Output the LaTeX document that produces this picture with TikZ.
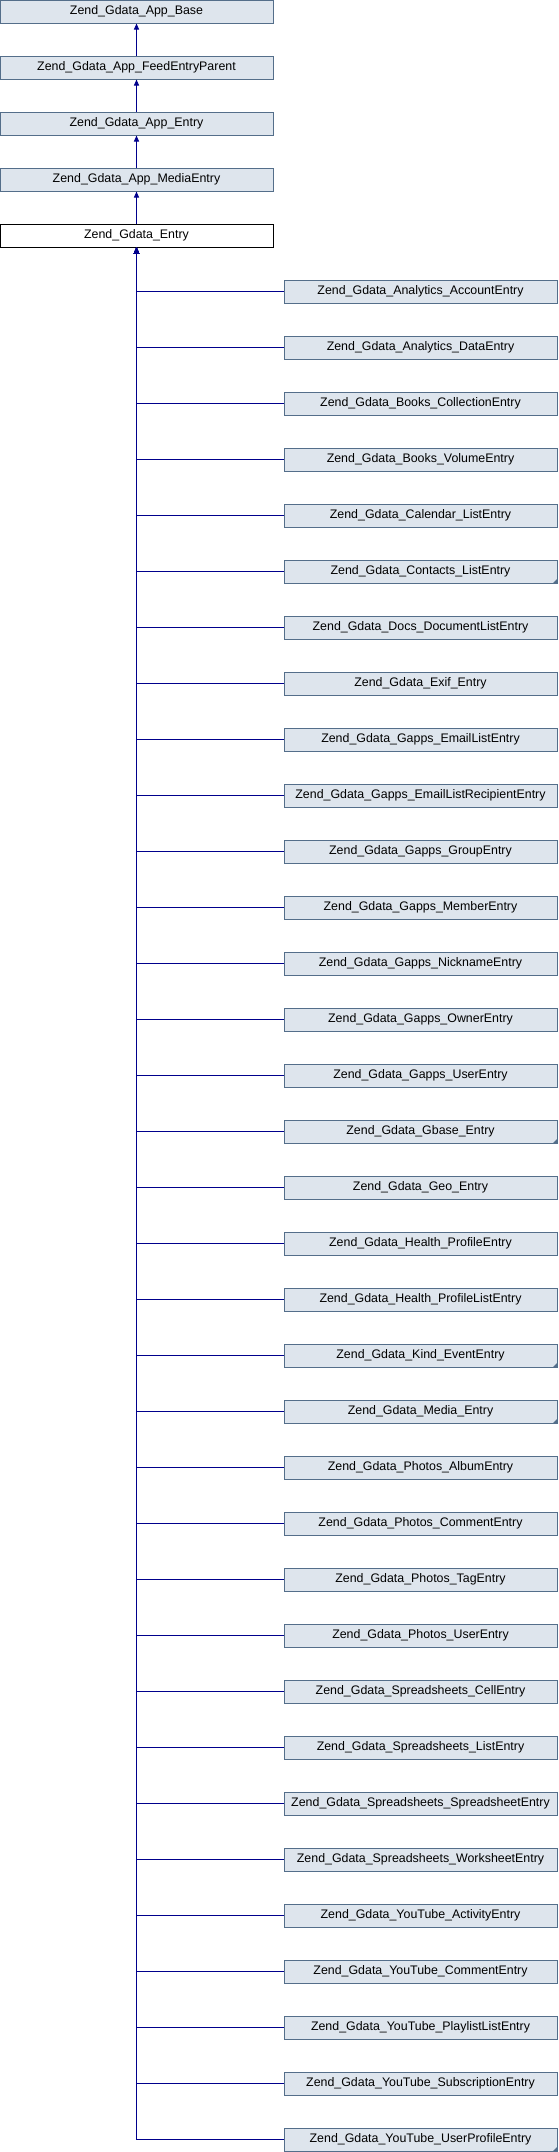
\documentclass[tikz,border=0pt]{standalone}
\usepackage{fontspec}
\setmainfont{Liberation Sans}
\usetikzlibrary{arrows.meta}
\definecolor{boxfill}{RGB}{222,229,237}
\definecolor{boxline}{RGB}{84,110,138}
\definecolor{linkblue}{RGB}{0,0,140}

\begin{document}
\begin{tikzpicture}[x=1pt,y=-1pt,
		classbox/.style={rectangle,draw=boxline,fill=boxfill,line width=1pt,minimum width=273pt,minimum height=23pt,inner sep=0pt,font=\fontsize{12.4}{14}\selectfont},
		mainbox/.style={classbox,draw=black,fill=white},
		inherit/.style={draw=linkblue,line width=1pt,-{Triangle[width=5pt,length=6pt]}}]
		\useasboundingbox (0,0) rectangle (558,2152);
		\node(base) at (136.5,11.5)[classbox]{Zend\_Gdata\_App\_Base};
		\node(feed) at (136.5,67.5)[classbox]{Zend\_Gdata\_App\_FeedEntryParent};
		\node(appentry) at (136.5,123.5)[classbox]{Zend\_Gdata\_App\_Entry};
		\node(media) at (136.5,179.5)[classbox]{Zend\_Gdata\_App\_MediaEntry};
		\node(entry) at (136.5,235.5)[mainbox]{Zend\_Gdata\_Entry};
		
		\draw[inherit] (feed) to (base);
		\draw[inherit] (appentry) to (feed);
		\draw[inherit] (media) to (appentry);
		\draw[inherit] (entry) to (media);
		
		\foreach \name [count=\i] in {Analytics\_AccountEntry,Analytics\_DataEntry,Books\_CollectionEntry,Books\_VolumeEntry,Calendar\_ListEntry,Contacts\_ListEntry,Docs\_DocumentListEntry,Exif\_Entry,Gapps\_EmailListEntry,Gapps\_EmailListRecipientEntry,Gapps\_GroupEntry,Gapps\_MemberEntry,Gapps\_NicknameEntry,Gapps\_OwnerEntry,Gapps\_UserEntry,Gbase\_Entry,Geo\_Entry,Health\_ProfileEntry,Health\_ProfileListEntry,Kind\_EventEntry,Media\_Entry,Photos\_AlbumEntry,Photos\_CommentEntry,Photos\_TagEntry,Photos\_UserEntry,Spreadsheets\_CellEntry,Spreadsheets\_ListEntry,Spreadsheets\_SpreadsheetEntry,Spreadsheets\_WorksheetEntry,YouTube\_ActivityEntry,YouTube\_CommentEntry,YouTube\_PlaylistListEntry,YouTube\_SubscriptionEntry,YouTube\_UserProfileEntry}{
			\node(child\i) at (420.5,235.5+56*\i)[classbox]{Zend\_Gdata\_\name};
			\draw[inherit] (child\i.west) -| (entry.south);
		}
		% classes with subclasses of their own
		\foreach \i in {6,16,20,21,34}
			\fill[boxline] (child\i.south east) -- ++(-5,0) -- ++(5,-5) -- cycle;
	\end{tikzpicture}
\end{document}
